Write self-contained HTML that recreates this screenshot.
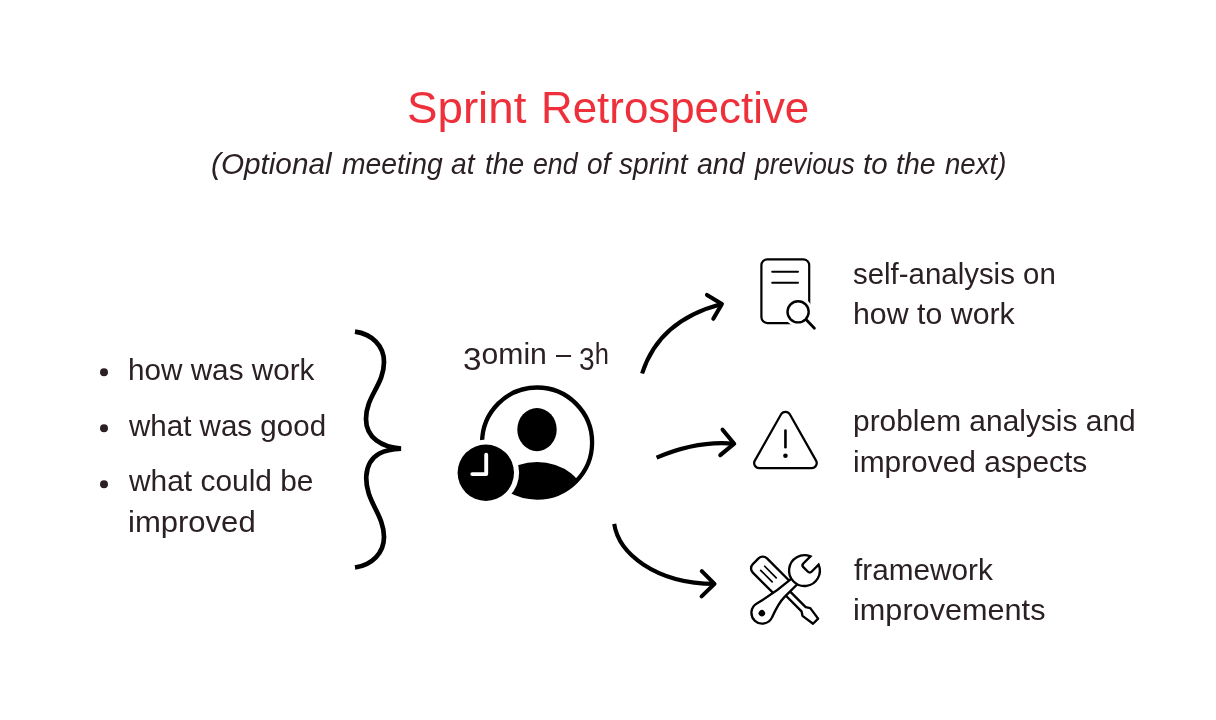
<!DOCTYPE html>
<html>
<head>
<meta charset="utf-8">
<title>Sprint Retrospective</title>
<style>
html,body{margin:0;padding:0;background:#fff;}
body{width:1216px;height:720px;position:relative;overflow:hidden;font-family:"Liberation Sans",sans-serif;color:#2b2024;}
.t{position:absolute;white-space:nowrap;line-height:1;transform-origin:0 0;font-size:29px;}
.title{font-size:44px;color:#ee303b;}
.sub{font-style:italic;}
svg{position:absolute;left:0;top:0;}
.os{position:relative;top:6px;font-size:32px;line-height:0;}
</style>
</head>
<body>
<!--TEXT-->
<div class="t title" style="left:407.28px;top:86px;transform:scaleX(1.0383)">Sprint</div>
<div class="t title" style="left:540.63px;top:86px;transform:scaleX(0.9971)">Retrospective</div>
<div class="t sub" style="left:210.85px;top:150px;transform:scaleX(1.0243)">(Optional</div>
<div class="t sub" style="left:341.70px;top:150px;transform:scaleX(0.9751)">meeting</div>
<div class="t sub" style="left:450.81px;top:150px;transform:scaleX(0.9718)">at</div>
<div class="t sub" style="left:484.71px;top:150px;transform:scaleX(0.9723)">the</div>
<div class="t sub" style="left:533.06px;top:150px;transform:scaleX(0.9216)">end</div>
<div class="t sub" style="left:586.92px;top:150px;transform:scaleX(0.9643)">of</div>
<div class="t sub" style="left:618.50px;top:150px;transform:scaleX(0.9674)">sprint</div>
<div class="t sub" style="left:697.00px;top:150px;transform:scaleX(0.9842)">and</div>
<div class="t sub" style="left:755.43px;top:150px;transform:scaleX(0.9092)">previous</div>
<div class="t sub" style="left:863.36px;top:150px;transform:scaleX(1.0156)">to</div>
<div class="t sub" style="left:896.30px;top:150px;transform:scaleX(0.9800)">the</div>
<div class="t sub" style="left:944.73px;top:150px;transform:scaleX(0.9511)">next)</div>
<div class="t" style="left:127.81px;top:356px;transform:scaleX(1.0234)">how was work</div>
<div class="t" style="left:129.00px;top:412px;transform:scaleX(1.0186)">what was good</div>
<div class="t" style="left:129.00px;top:467px;transform:scaleX(1.0307)">what could be</div>
<div class="t" style="left:127.82px;top:508px;transform:scaleX(1.0702)">improved</div>
<div class="t" style="left:852.96px;top:260px;transform:scaleX(1.0145)">self-analysis on</div>
<div class="t" style="left:852.67px;top:300px;transform:scaleX(1.0453)">how to work</div>
<div class="t" style="left:852.70px;top:407px;transform:scaleX(1.0314)">problem analysis and</div>
<div class="t" style="left:853.20px;top:448px;transform:scaleX(1.0308)">improved aspects</div>
<div class="t" style="left:854.00px;top:556px;transform:scaleX(1.0257)">framework</div>
<div class="t" style="left:852.64px;top:596px;transform:scaleX(1.0568)">improvements</div>
<div class="t" style="left:463.00px;top:340px;transform:scaleX(1.0398)"><span class="os">3</span>omin</div>
<div class="t" style="left:555.80px;top:340px;transform:scaleX(0.9371)">–</div>
<div class="t" style="left:579.40px;top:340px;transform:scaleX(0.8788)"><span class="os">3</span>h</div>
<!--/TEXT-->

<svg width="1216" height="720" viewBox="0 0 1216 720" fill="none">
  <!-- bullets -->
  <g fill="#2b2024">
    <circle cx="104" cy="372.3" r="4"/>
    <circle cx="104" cy="428.3" r="4"/>
    <circle cx="104" cy="484.2" r="4"/>
  </g>
  <!-- brace -->
  <path id="brace" stroke="#000" stroke-width="4.7" stroke-linecap="butt" stroke-linejoin="bevel"
   d="M355,331.7 C372,334 384,346 384,362 C384,385 366,396 366,419 C366,438 382,447 401,448.6
      C388,449.2 368,452 366.3,476 C365,501 384,514 384,537 C384,553 372,565 355,567.5"/>
  <!-- arrows -->
  <g stroke="#000" stroke-width="4.1" stroke-linecap="butt" stroke-linejoin="round">
    <path d="M642.1,373.5 Q658.8,320.2 721.9,303.9"/>
    <path d="M707.0,294.9 L721.9,303.9 L713.3,318.8" stroke-linecap="round"/>
    <path d="M656.6,457.6 Q697.5,440.2 734.2,443.7"/>
    <path d="M722.6,429.7 L734.2,443.7 L720.3,455.2" stroke-linecap="round"/>
    <path d="M614.2,523.9 C618.6,553 655,583.6 714.5,583.9"/>
    <path d="M701.8,571.1 L714.5,583.9 L701.6,596.4" stroke-linecap="round"/>
  </g>
  <!-- center icon -->
  <defs>
    <mask id="halo" maskUnits="userSpaceOnUse" x="440" y="370" width="180" height="150">
      <rect x="440" y="370" width="180" height="150" fill="#fff"/>
      <circle cx="485.8" cy="472.8" r="33.3" fill="#000"/>
    </mask>
    <clipPath id="inring"><circle cx="537.1" cy="442.5" r="55"/></clipPath>
  </defs>
  <g mask="url(#halo)">
    <circle cx="537.1" cy="442.5" r="55" stroke="#000" stroke-width="4.3"/>
    <ellipse cx="537" cy="429.6" rx="19.7" ry="21.6" fill="#000"/>
    <ellipse cx="537" cy="500" rx="48" ry="38" fill="#000" clip-path="url(#inring)"/>
  </g>
  <circle cx="485.8" cy="472.8" r="28.2" fill="#000"/>
  <path d="M486.2,454.8 V474.1 H472.3" stroke="#fff" stroke-width="3.9" stroke-linecap="round" stroke-linejoin="round"/>
  <!-- document + magnifier -->
  <defs>
    <mask id="mhalo" maskUnits="userSpaceOnUse" x="750" y="250" width="80" height="90">
      <rect x="750" y="250" width="80" height="90" fill="#fff"/>
      <circle cx="798.1" cy="311.8" r="14.6" fill="#000"/>
    </mask>
  </defs>
  <g stroke="#000" stroke-width="2.2" stroke-linecap="round">
    <rect x="761.4" y="259.3" width="47.8" height="63.8" rx="6" ry="6" mask="url(#mhalo)"/>
    <path d="M772.2,271.8 H798 M772.2,282.8 H798" stroke-width="2"/>
    <circle cx="798.1" cy="311.8" r="10.6" stroke-width="2.4"/>
    <path d="M806.3,319.8 L814.4,328.2" stroke-width="2.8"/>
  </g>
  <!-- warning -->
  <g stroke="#000" stroke-width="2.25" stroke-linecap="round" stroke-linejoin="round">
    <path d="M781.10,414.29 A5,5 0 0 1 789.80,414.29 L816.06,460.58 A5,5 0 0 1 811.71,468.05 L759.19,468.05 A5,5 0 0 1 754.84,460.58 Z"/>
    <path d="M785.45,430.6 V447.2" stroke-width="2.6"/>
    <circle cx="785.45" cy="455.8" r="2.3" fill="#000" stroke="none"/>
  </g>
  <!-- tools -->
  <g transform="translate(784.6,590.2) rotate(45)" stroke="#000" stroke-width="2.35" fill="none" stroke-linejoin="round">
    <path d="M-3,-10.05 H-34.9 A6,6 0 0 0 -40.9,-4.05 V4.05 A6,6 0 0 0 -34.9,10.05 H-3"/>
    <path d="M-31,-2.85 H-14.7 M-31,2.85 H-14.7" stroke-width="1.7" stroke-linecap="round"/>
    <path d="M0,-2.95 H26.9 L30.8,-5.5 L43.8,-3.6 V3.6 L30.8,5.5 L26.9,2.95 H0"/>
  </g>
  <g transform="translate(804.45,570.6) rotate(-45)" stroke="#000" stroke-width="2.35" fill="#fff" stroke-linejoin="round">
    <path d="M-14.9,-3.4 C-30,-4.4 -49.2,-8.36 -56.9,-10.43 A10.8,10.8 0 1 0 -56,10.15 C-48.5,7.4 -41,4.6 -33,4.6 L-14.7,4.6"/>
    <path d="M14.27,-5.8 L4.2,-5.8 A2.5,2.5 0 0 0 1.7,-3.3 L1.7,3.3 A2.5,2.5 0 0 0 4.2,5.8 L14.27,5.8 A15.4,15.4 0 1 1 14.27,-5.8 Z" stroke-linejoin="miter"/>
    <circle cx="-60.2" cy="0" r="3.2" fill="#000" stroke="none"/>
  </g>
</svg>
</body>
</html>
